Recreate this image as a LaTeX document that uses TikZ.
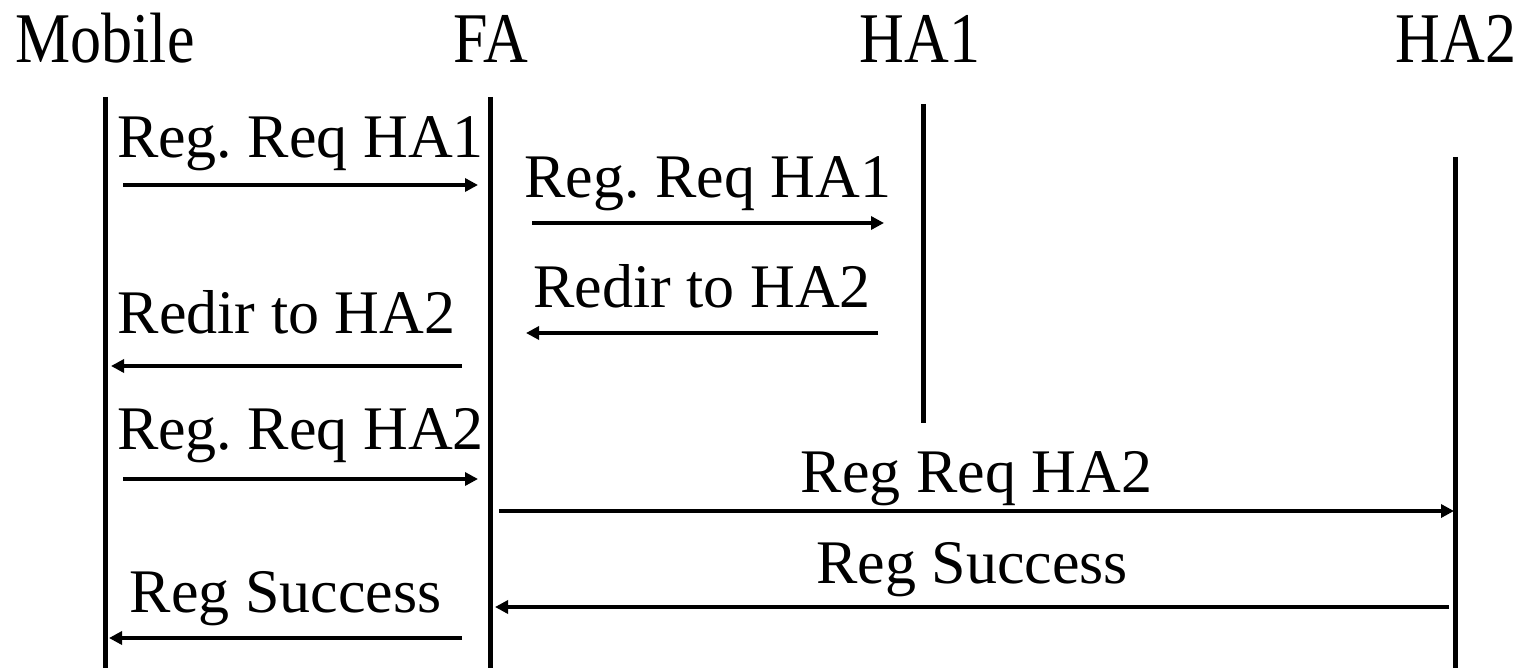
\documentclass[tikz,border=0pt]{standalone}
\usepackage{fontspec}
\setmainfont{Liberation Serif}
\usetikzlibrary{arrows.meta}
\frenchspacing
\tikzset{
  lifeline/.style={line width=2.5pt},
  msg/.style={line width=2pt,-{Triangle[length=6.5pt,width=6.5pt]}},
  lbl/.style={anchor=base,inner sep=0pt,font=\fontsize{31}{36}\selectfont},
}

\begin{document}
\begin{tikzpicture}[x=0.5pt,y=-0.5pt]
\useasboundingbox (0,0) rectangle (1524,668);
% the four parties
\node[lbl] (mobile) at (105,63) {\scalebox{1}[1.15]{Mobile}};
\node[lbl] (fa) at (491,63) {\scalebox{1}[1.15]{FA}};
\node[lbl] (ha1) at (920,63) {\scalebox{1}[1.15]{HA1}};
\node[lbl] (ha2) at (1456,63) {\scalebox{1}[1.15]{HA2}};
% lifelines
\coordinate (mtop) at (105,97);  \coordinate (mbot) at (105,668);
\coordinate (ftop) at (490,97);  \coordinate (fbot) at (490,668);
\coordinate (h1top) at (923,104); \coordinate (h1bot) at (923,423);
\coordinate (h2top) at (1455,157); \coordinate (h2bot) at (1455,668);
\draw[lifeline] (mtop) -- (mbot);
\draw[lifeline] (ftop) -- (fbot);
\draw[lifeline] (h1top) -- (h1bot);
\draw[lifeline] (h2top) -- (h2bot);
% messages: name/from x/to x/arrow y/label baseline/label
\foreach \n/\xa/\xb/\y/\b/\t in {
  m1/123/478/185/158/Reg. Req HA1,
  m2/532/884/223/198/Reg. Req HA1,
  m3/878/526/333/307/Redir to HA2,
  m4/462/111/366/333/Redir to HA2,
  m5/123/478/479/449/Reg. Req HA2,
  m6/499/1454/511/492/Reg Req HA2,
  m7/1449/495/607/583/Reg Success,
  m8/462/109/638/612/Reg Success}
{
  \coordinate (\n a) at (\xa,\y);
  \coordinate (\n b) at (\xb,\y);
  \draw[msg] (\n a) -- (\n b);
  \pgfmathsetmacro\xm{(\xa+\xb)/2}
  \node[lbl] (\n t) at (\xm,\b) {\t};
}
\end{tikzpicture}
\end{document}
